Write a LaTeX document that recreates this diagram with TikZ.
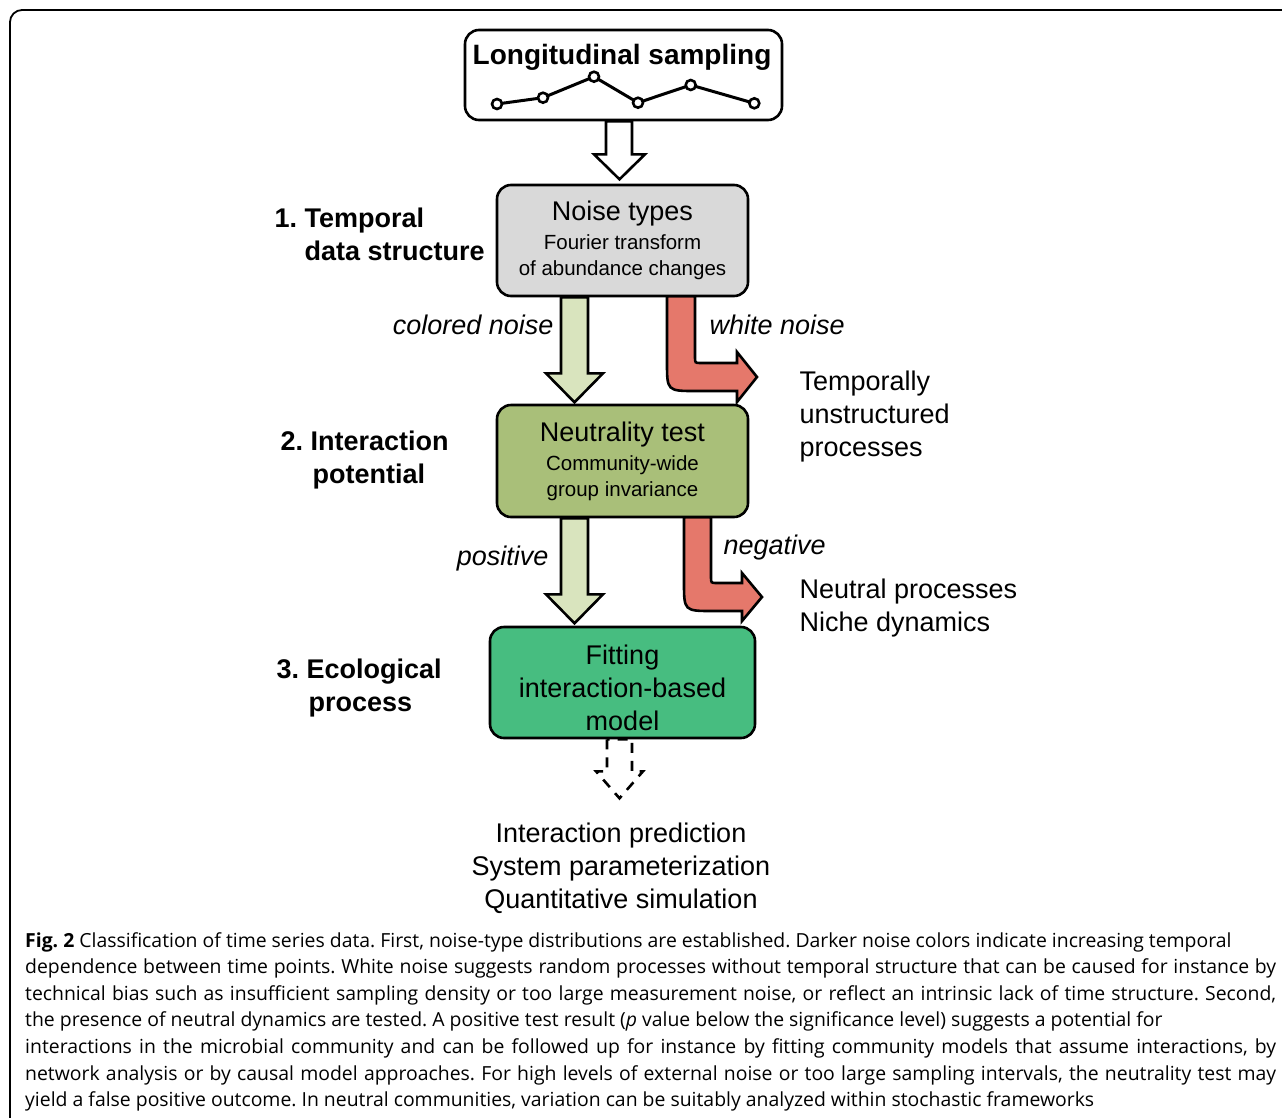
\documentclass[tikz,border=0pt]{standalone}
\usepackage{fontspec}
\setmainfont{Liberation Sans}
\newfontfamily\capfont{Open Sans}
\usetikzlibrary{positioning}
\frenchspacing

\definecolor{boxgray}{HTML}{D9D9D9}
\definecolor{testgreen}{HTML}{A9BF79}
\definecolor{fitgreen}{HTML}{47BD80}
\definecolor{palegreen}{HTML}{D9E4BE}
\definecolor{noisered}{HTML}{E5786B}

\newcommand{\subtxt}{\fontsize{20.5}{26}\selectfont}
\newcommand{\capline}[1]{\makebox[1251pt][s]{#1}}

\tikzset{
  bigtxt/.style={font=\fontsize{27}{33}\selectfont},
  boldtxt/.style={font=\bfseries\fontsize{27}{33}\selectfont},
  branchtxt/.style={font=\itshape\fontsize{27}{33}\selectfont},
  stepbox/.style={draw, line width=2.6pt, rounded corners=14pt, align=center, inner sep=0pt, bigtxt},
  fatarrow/.style={draw, line width=2.6pt, line join=miter},
}

\begin{document}
\begin{tikzpicture}[x=1pt,y=-1pt]
      \path[use as bounding box] (0,0) rectangle (1282,1117);
      \clip (0,0) rectangle (1282,1117);
      \draw[line width=1.8pt, rounded corners=12pt] (10,10) rectangle (1300,1140);

      % arrows first, the boxes cover their upper ends
      \draw[fatarrow, fill=noisered] (667,296) -- (667,362) .. controls (667,391) .. (696,391) -- (737,391)
			-- (737,402) -- (757,377) -- (737,352) -- (737,363) -- (701,363) .. controls (695,363) .. (695,357)
			-- (695,296) -- cycle;
      \draw[fatarrow, fill=noisered] (684,517) -- (684,582) .. controls (684,611) .. (713,611) -- (742,611)
			-- (742,621) -- (762,597) -- (742,573) -- (742,583) -- (717,583) .. controls (711,583) .. (711,577)
			-- (711,517) -- cycle;

      \node[stepbox, minimum width=317pt, minimum height=90pt] (sampling) at (623.5,75) {};
      \node[stepbox, fill=boxgray, minimum width=251pt, minimum height=111pt] (noise) at (622.5,240.5)
			{Noise types\\[-4pt]\subtxt Fourier transform\\[-7pt]\subtxt of abundance changes};
      \node[stepbox, fill=testgreen, minimum width=251pt, minimum height=112pt] (neutral) at (622.5,461)
			{Neutrality test\\[-4pt]\subtxt Community-wide\\[-7pt]\subtxt group invariance};
      \node[stepbox, fill=fitgreen, minimum width=265pt, minimum height=111pt] (fitting) at (622.5,682.5) {};
      \tikzset{every node/.append style={bigtxt}}
      \node[align=center] (fittext) at (622.5,688) {Fitting\\interaction-based\\model};
      \node[font=\bfseries\fontsize{28}{33}\selectfont] (samptitle) at (622,57) {Longitudinal sampling};
      \draw[line width=3pt] (497,104) coordinate (s1) -- (543,97.7) coordinate (s2) -- (594,76.7) coordinate (s3)
			-- (638,102.7) coordinate (s4) -- (690.7,85) coordinate (s5) -- (754.3,103.3) coordinate (s6);
      \foreach\i in {1,...,6} { \draw[line width=2.6pt, fill=white] (s\i) circle (5pt); }

      \draw[fatarrow, fill=white] (sampling.south) ++(-17.5,0) -- ++(0,33) -- ++(-12,0) -- ++(25.5,25)
			-- ++(25.5,-25) -- ++(-13,0) -- ++(0,-33) -- cycle;
      \draw[fatarrow, fill=palegreen] (noise.south) ++(-61.5,0) -- ++(0,76) -- ++(-15,0) -- ++(28.5,29)
			-- ++(28.5,-29) -- ++(-15,0) -- ++(0,-76) -- cycle;
      \draw[fatarrow, fill=palegreen] (neutral.south) ++(-61.5,0) -- ++(0,76) -- ++(-15,0) -- ++(28.5,29)
			-- ++(28.5,-29) -- ++(-15,0) -- ++(0,-76) -- cycle;
      \draw[fatarrow, dash pattern=on 10pt off 8pt] (fitting.south) ++(-15.5,0) -- ++(0,32) -- ++(-11,0)
			-- ++(23.5,27) -- ++(23.5,-27) -- ++(-11,0) -- ++(0,-32) -- cycle;

      \node[boldtxt, anchor=west, align=left] (step1) at (271,234) {1. Temporal\\\hspace*{30pt}data structure};
      \node[boldtxt, anchor=west, align=left] (step2) at (277,460) {2. Interaction\\\hspace*{32pt}potential};
      \node[boldtxt, anchor=west, align=left] (step3) at (273,688) {3. Ecological\\\hspace*{32pt}process};

      \node[branchtxt, anchor=east] (colored) at (557,325) {colored noise};
      \node[branchtxt, anchor=west] (white) at (706,325) {white noise};
      \node[branchtxt, anchor=east] (positive) at (552,559) {positive};
      \node[branchtxt, anchor=west] (negative) at (720,548) {negative};

      \node[anchor=west, align=left] (unstruct) at (796,417) {Temporally\\unstructured\\processes};
      \node[anchor=west, align=left] (nichetxt) at (796,608) {Neutral processes\\Niche dynamics};
      \node[align=center] (outcome) at (621,868.5) {Interaction prediction\\System parameterization\\Quantitative simulation};

      \node[anchor=north west, align=left, inner sep=0pt, font=\capfont\fontsize{19.4}{26.6}\selectfont] (caption) at (25,932) {%
	{\bfseries Fig. 2} Classification of time series data. First, noise-type distributions are established. Darker noise colors indicate increasing temporal\\
	\capline{dependence between time points. White noise suggests random processes without temporal structure that can be caused for instance by}\\
	\capline{technical bias such as insufficient sampling density or too large measurement noise, or reflect an intrinsic lack of time structure. Second,}\\
	the presence of neutral dynamics are tested. A positive test result ({\itshape p} value below the significance level) suggests a potential for\\
	\capline{interactions in the microbial community and can be followed up for instance by fitting community models that assume interactions, by}\\
	\capline{network analysis or by causal model approaches. For high levels of external noise or too large sampling intervals, the neutrality test may}\\
	yield a false positive outcome. In neutral communities, variation can be suitably analyzed within stochastic frameworks};
\end{tikzpicture}
\end{document}
